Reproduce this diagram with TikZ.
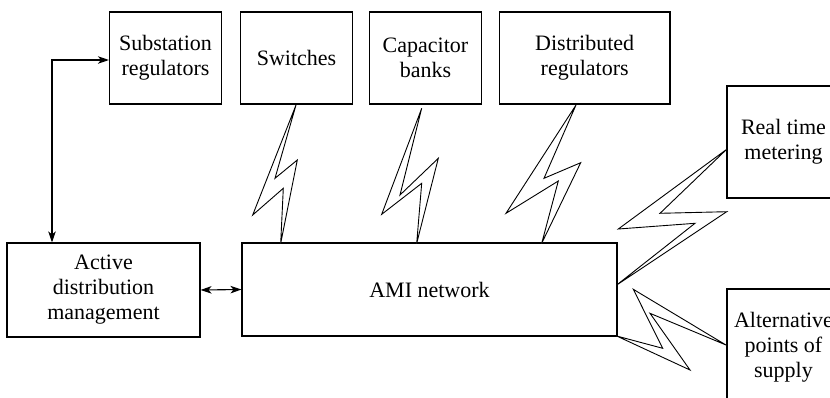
\documentclass[tikz,border=0pt]{standalone}
\usepackage{fontspec}
\setmainfont{Liberation Serif}
\usetikzlibrary{arrows.meta}
\begin{document}
\begin{tikzpicture}[x=1pt,y=-1pt,
  box/.style={draw, line width=1.1pt, inner sep=0pt, align=center, font=\fontsize{22}{25}\selectfont},
  tip/.tip={Stealth[length=11pt,width=7.5pt,inset=3pt]},
  arr/.style={line width=1.1pt, tip-tip},
  bolt/.style={draw, fill=white, line width=0.9pt, line join=miter}]
\useasboundingbox (0,0) rectangle (830,397);
\clip (0,0) rectangle (830,397);
% boxes
\node[box, minimum width=112pt, minimum height=92pt] (sub) at (165.5,58) {Substation\\regulators};
\node[box, minimum width=112pt, minimum height=92pt] (sw) at (296.5,58) {Switches};
\node[box, minimum width=112pt, minimum height=92pt] (cap) at (425.5,58) {Capacitor\\banks};
\node[box, minimum width=170.5pt, minimum height=92pt] (dist) at (584.7,58) {Distributed\\regulators};
\node[box, minimum width=113pt, minimum height=112pt] (rtm) at (783.5,142) {Real time\\metering};
\node[box, minimum width=113pt, minimum height=116pt] (alt) at (783.5,347) {Alternative\\points of\\supply};
\node[box, minimum width=375pt, minimum height=93pt] (ami) at (429.5,289.5) {AMI network};
\node[box, minimum width=193pt, minimum height=94pt] (adm) at (103.5,290) {Active\\distribution\\management};
% arrows
\coordinate (c1) at (52,60);
\draw[arr] (c1 |- adm.north) -- (c1) -- (c1 -| sub.west);
\draw[arr] (adm.east) -- (ami.west);
% lightning bolts
\draw[bolt] (296,105) -- (252.7,215) -- (283.3,188.3) -- (280.7,243.3) -- (297.3,160) -- (275,178.3) -- cycle;
\draw[bolt] (421.7,108.3) -- (381.7,214.3) -- (421.7,183.3) -- (416.7,243.3) -- (438.3,158.3) -- (400,195) -- cycle;
\draw[bolt] (576,105) -- (506,213.3) -- (558.3,181) -- (541.7,243.3) -- (580.7,162.7) -- (544,178.3) -- cycle;
\draw[bolt] (726.7,149.3) -- (618.3,229) -- (695,223.3) -- (616.7,285) -- (726.7,211.7) -- (660,213.3) -- cycle;
\draw[bolt] (726,345) -- (633.3,289.3) -- (662.7,348.3) -- (616.7,336) -- (690,370) -- (650,313.3) -- cycle;
\end{tikzpicture}
\end{document}
